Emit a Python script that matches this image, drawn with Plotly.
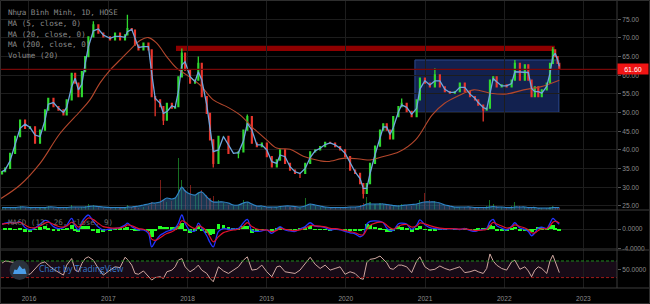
import plotly.graph_objects as go
import pandas as pd

# ---------------- data ----------------
dates = [
    "2015-08-30", "2015-09-13", "2015-10-06", "2015-10-29", "2015-11-21", "2015-12-14",
    "2016-01-06", "2016-01-29", "2016-02-21", "2016-03-15", "2016-03-30", "2016-04-23", "2016-05-16",
    "2016-06-08", "2016-06-23", "2016-07-16", "2016-08-01", "2016-08-16", "2016-09-01", "2016-09-16",
    "2016-10-01", "2016-10-24", "2016-11-16", "2016-12-09",
    "2017-01-09", "2017-02-01", "2017-02-24", "2017-03-19", "2017-03-30", "2017-04-19", "2017-05-04",
    "2017-05-20", "2017-06-12", "2017-07-05", "2017-07-20", "2017-08-05", "2017-08-28", "2017-09-12",
    "2017-09-28", "2017-10-21", "2017-11-05", "2017-11-20", "2017-12-06", "2017-12-21",
    "2018-01-13", "2018-02-05", "2018-02-20", "2018-03-08", "2018-03-31", "2018-04-15", "2018-04-30",
    "2018-05-24", "2018-06-16", "2018-07-09", "2018-08-01", "2018-08-24", "2018-09-16", "2018-10-04",
    "2018-10-25", "2018-11-17", "2018-12-10",
    "2019-01-02", "2019-01-25", "2019-02-17", "2019-03-04", "2019-03-27", "2019-04-19", "2019-05-12",
    "2019-06-04", "2019-06-28", "2019-07-21", "2019-08-13", "2019-09-05", "2019-09-28", "2019-10-21",
    "2019-11-13", "2019-12-06", "2019-12-29",
    "2020-01-21", "2020-02-13", "2020-03-07", "2020-03-22", "2020-04-07", "2020-04-22", "2020-05-15",
    "2020-06-07", "2020-06-22", "2020-07-08", "2020-07-23", "2020-08-07", "2020-08-31", "2020-09-15",
    "2020-10-08", "2020-10-31", "2020-11-23", "2020-12-08", "2020-12-31",
    "2021-01-23", "2021-02-15", "2021-03-10", "2021-04-02", "2021-04-25", "2021-05-18", "2021-06-10",
    "2021-07-03", "2021-07-27", "2021-08-19", "2021-09-03", "2021-09-26", "2021-10-12", "2021-10-27",
    "2021-11-11", "2021-11-27", "2021-12-20",
    "2022-01-12", "2022-02-04", "2022-02-19", "2022-03-14", "2022-04-06", "2022-04-22", "2022-05-07",
    "2022-05-22", "2022-06-07", "2022-06-23", "2022-07-16", "2022-07-31", "2022-08-13", "2022-08-24",
    "2022-09-04", "2022-09-12",
]

close = [
    34.2, 35.1, 39.1, 43.6, 48.0, 45.8,
    46.2, 41.8, 45.3, 50.7, 53.8, 51.6, 50.7, 49.4, 53.4, 60.5, 57.9, 54.3, 61.0, 65.0, 70.3, 73.5, 71.3, 70.3,
    69.5, 71.3, 69.5, 70.8, 72.5, 72.1, 68.1, 66.8, 68.6, 66.8, 54.3, 53.4, 51.6, 48.0, 52.5, 51.2, 51.6, 59.6, 65.9, 61.4,
    57.9, 58.7, 63.2, 54.3, 49.8, 42.7, 36.4, 43.6, 43.6, 39.1, 39.1, 39.5, 45.3, 48.9, 41.8, 40.9, 41.8,
    38.2, 35.5, 37.3, 40.0, 36.4, 34.6, 33.7, 33.7, 36.4, 39.5, 40.0, 40.9, 42.0, 41.8, 40.9, 40.0, 38.2,
    34.6, 33.7, 31.0, 28.4, 31.0, 36.4, 41.0, 45.3, 47.0, 45.3, 43.0, 48.9, 51.6, 52.5, 50.3, 48.9, 53.4, 59.2, 57.9,
    56.9, 60.1, 56.9, 55.6, 55.2, 55.6, 57.9, 55.6, 54.3, 53.4, 52.0, 50.7, 51.2, 58.7, 59.6, 56.9, 57.4,
    56.9, 58.7, 63.2, 58.7, 62.8, 58.7, 54.3, 56.9, 54.3, 56.1, 57.9, 63.2, 66.8, 65.0, 63.2, 61.6,
]
first_open = 33.6

wick_high = {"2016-10-24": 74.5, "2017-03-30": 76.2, "2017-12-06": 67.2, "2018-02-20": 65.0,
             "2018-10-04": 49.5, "2020-09-15": 53.8, "2021-02-15": 61.9, "2022-02-19": 64.1,
             "2022-08-13": 67.6}
wick_low = {"2017-08-05": 49.0, "2017-09-12": 46.7, "2018-04-30": 35.3, "2018-08-24": 37.8,
            "2019-06-04": 32.5, "2020-03-22": 27.0, "2021-09-26": 47.6}

macd = [
    1.0, 1.2, 1.4, 1.2, 1.5, 0.3,
    -0.2, 0.2, 1.0, 1.8, 1.6, 0.5, 0.1, 0.3, 0.8, 2.2, 0.6, -0.2, 1.5, 2.4, 2.9, 1.6, 0.4, -0.2,
    0.0, 0.1, 0.3, 0.8, 1.2, 0.5, 0.1, -0.2, -0.2, -0.9, -3.7, -2.6, -1.3, -0.9, -0.5, -0.2, 0.2, 1.2, 2.9, 1.2,
    -0.3, -0.4, 1.2, 0.2, -1.4, -2.8, -3.7, -0.5, 0.1, -0.1, 0.0, 0.1, 1.3, 2.0, -0.3, -0.5, -0.4,
    -0.2, -0.9, 0.0, 0.5, -0.2, -0.4, -0.5, 0.0, 0.5, 1.3, 0.6, 0.5, 0.3, -0.2, 0.0, -0.2, -0.5,
    -0.8, -1.0, -1.6, -1.2, 1.0, 1.6, 1.7, 1.6, 1.3, 0.2, -0.3, -0.3, 1.1, 1.2, 1.0, -0.1, 0.8, 1.9, 0.9,
    0.3, 0.1, 0.0, 0.0, 0.1, 0.0, -0.1, 0.1, -0.3, -0.5, -0.3, -0.1, 0.1, 1.5, 2.0, 0.7, 0.2,
    -0.2, 0.6, 1.3, 0.2, -0.1, -0.5, -1.4, -0.8, 0.2, 0.4, 0.1, 1.2, 2.2, 1.8, 1.3, 1.0,
]

rsi = [
    65, 70, 68, 66, 52, 40,
    38, 52, 64, 68, 60, 50, 44, 36, 60, 76, 48, 44, 64, 76, 80, 72, 52, 36,
    48, 56, 54, 79, 74, 60, 40, 38, 46, 34, 24, 30, 32, 28, 44, 48, 56, 72, 76, 56,
    44, 52, 60, 48, 40, 28, 20, 56, 46, 40, 48, 56, 72, 80, 48, 50, 60,
    44, 32, 56, 58, 44, 42, 40, 48, 64, 79, 62, 52, 60, 48, 52, 56, 38,
    44, 40, 28, 26, 66, 74, 76, 82, 74, 66, 52, 50, 60, 60, 56, 42, 70, 80, 56,
    48, 50, 58, 52, 48, 52, 56, 42, 44, 48, 44, 40, 52, 87, 70, 60, 52,
    48, 68, 72, 50, 56, 46, 32, 48, 56, 52, 40, 70, 84, 70, 56, 42,
]

volume_k = [
    80, 120, 80, 120, 160, 80,
    80, 120, 80, 120, 160, 80, 80, 80, 120, 200, 120, 80, 120, 160, 240, 200, 120, 80,
    80, 80, 80, 120, 200, 120, 120, 80, 120, 160, 320, 240, 1200, 400, 320, 360, 480, 2080, 1200, 800,
    1000, 600, 720, 800, 600, 480, 560, 400, 280, 200, 160, 200, 400, 320, 200, 160, 120,
    120, 120, 120, 160, 160, 120, 120, 80, 480, 240, 160, 120, 120, 80, 80, 120, 120,
    120, 120, 200, 280, 520, 320, 240, 280, 240, 200, 160, 160, 200, 240, 200, 160, 240, 400, 680,
    400, 360, 240, 160, 160, 120, 120, 120, 120, 120, 80, 120, 160, 400, 240, 160, 120,
    120, 160, 320, 160, 120, 120, 120, 120, 80, 80, 80, 120, 160, 120, 120, 80,
]

volume_ma_k = [
    100, 100, 100, 100, 120, 120,
    100, 100, 100, 100, 120, 120, 100, 100, 100, 120, 120, 120, 120, 120, 140, 160, 140, 120,
    100, 100, 100, 100, 120, 120, 140, 160, 200, 240, 280, 280, 320, 400, 480, 440, 480, 680, 920, 760,
    640, 600, 680, 720, 520, 400, 320, 320, 320, 280, 200, 200, 280, 320, 240, 160, 160,
    120, 120, 120, 140, 160, 160, 140, 120, 160, 240, 200, 160, 120, 100, 100, 100, 100,
    120, 120, 140, 180, 240, 240, 240, 240, 240, 220, 200, 180, 160, 180, 200, 220, 240, 280, 320,
    320, 320, 280, 200, 160, 120, 120, 120, 120, 100, 100, 100, 100, 120, 140, 120, 120,
    100, 100, 120, 120, 120, 100, 100, 100, 80, 80, 80, 80, 100, 100, 100, 100,
]

ma200_dates = [
    "2015-08-25", "2015-11-21", "2016-02-21", "2016-05-23", "2016-08-23", "2016-10-08", "2016-11-23",
    "2017-01-09", "2017-02-24", "2017-04-11", "2017-05-27", "2017-07-05", "2017-08-12", "2017-09-27",
    "2017-11-12", "2017-12-28", "2018-02-28", "2018-04-30", "2018-07-01", "2018-08-31", "2018-11-01",
    "2019-01-01", "2019-02-16", "2019-04-19", "2019-06-19", "2019-09-04", "2019-10-11", "2019-12-28",
    "2020-03-14", "2020-04-22", "2020-06-18", "2020-09-03", "2020-11-18", "2021-02-03", "2021-04-01",
    "2021-05-28", "2021-08-13", "2021-10-29", "2022-01-13", "2022-03-31", "2022-06-16", "2022-09-12",
]
ma200 = [
    27.0, 30.6, 36.4, 44.4, 50.3, 53.4, 57.9,
    61.4, 64.1, 66.8, 69.3, 70.1, 68.6, 65.0,
    61.9, 60.1, 57.4, 53.4, 51.6, 49.4, 45.8,
    42.7, 40.5, 40.2, 38.3, 37.1, 36.9, 37.8,
    37.5, 37.3, 38.2, 39.5, 42.7, 49.4, 52.5,
    54.3, 56.1, 55.2, 55.0, 56.1, 56.9, 58.7,
]

price_ticks = [25, 30, 35, 40, 45, 50, 55, 60, 65, 70, 75]
macd_ticks = [-4, 0]
macd_tick_text = ["-4.0000", "0.0000"]
rsi_ticks = [50]
rsi_tick_text = ["50.0000"]
rsi_upper, rsi_lower = 70, 30
last_price = 61.6
box_dates = ["2020-11-15", "2022-09-10"]
box_prices = [50.1, 64.1]
band_dates = ["2017-11-09", "2022-08-22"]
band_prices = [66.5, 67.9]
legend_lines = ["Nhựa Bình Minh, 1D, HOSE", "MA (5, close, 0)", "MA (20, close, 0)",
                "MA (200, close, 0)", "Volume (20)"]
macd_label = "MACD (12, 26, close, 9)"
watermark = "Chart by TradingView"

# ---------------- derived series ----------------
opens = [first_open] + close[:-1]
highs = [max(wick_high.get(d, 0), o, c) for d, o, c in zip(dates, opens, close)]
lows = [min(wick_low.get(d, 999), o, c) for d, o, c in zip(dates, opens, close)]
ma20 = pd.Series(close).rolling(2, min_periods=1).mean()
signal = pd.Series(macd).ewm(span=3, adjust=False).mean()
hist = pd.Series(macd) - signal
vol_colors = ["rgba(40,200,60,0.55)" if c >= o else "rgba(220,50,40,0.55)" for o, c in zip(opens, close)]

# ---------------- layout helpers (pixel -> paper) ----------------
W, H = 650, 304
ML, MR, MT, MB = 1, 33, 1, 16
PW, PH = W - ML - MR, H - MT - MB


def fx(px):
    return (px - ML) / PW


def fy(py):
    return (H - MB - py) / PH


GREEN = "#2fd82f"
RED = "#e8352c"
GRID = "#1d1d1d"
TXT = "#8c8c8c"
DAY = 86400000

fig = go.Figure()
fig.add_trace(go.Candlestick(
    x=dates, open=opens, high=highs, low=lows, close=close,
    increasing=dict(line=dict(color=GREEN, width=1.3), fillcolor=GREEN),
    decreasing=dict(line=dict(color=RED, width=1.3), fillcolor=RED),
    whiskerwidth=0, xaxis="x", yaxis="y", showlegend=False, hoverinfo="skip"))
fig.add_trace(go.Scatter(x=ma200_dates, y=ma200, mode="lines", line=dict(color="#b4472c", width=1.1, shape="spline"),
                         xaxis="x", yaxis="y"))
fig.add_trace(go.Scatter(x=dates, y=ma20, mode="lines", line=dict(color="#6fa6df", width=1.3),
                         xaxis="x", yaxis="y"))
fig.add_trace(go.Bar(x=dates, y=volume_k, marker=dict(color=vol_colors, line=dict(width=0)), width=5 * DAY,
                     xaxis="x", yaxis="y4"))
fig.add_trace(go.Scatter(x=dates, y=volume_ma_k, mode="lines", fill="tozeroy",
                         line=dict(color="#2f86c8", width=1.2, shape="spline"),
                         fillcolor="rgba(45,100,150,0.55)", xaxis="x", yaxis="y4"))
fig.add_trace(go.Bar(x=dates, y=hist, marker=dict(color="#22ff22", line=dict(width=0)), width=18 * DAY,
                     xaxis="x", yaxis="y2"))
fig.add_trace(go.Scatter(x=dates, y=macd, mode="lines", line=dict(color="#2233ff", width=1.3, shape="spline"),
                         xaxis="x", yaxis="y2"))
fig.add_trace(go.Scatter(x=dates, y=signal, mode="lines", line=dict(color="#e0102c", width=1.2, shape="spline"),
                         xaxis="x", yaxis="y2"))
fig.add_trace(go.Scatter(x=dates, y=rsi, mode="lines", line=dict(color="#cfa7a0", width=1),
                         xaxis="x", yaxis="y3"))

tickfont = dict(family="Liberation Sans", size=6.6, color=TXT)
common_y = dict(side="right", anchor="x", zeroline=False, showline=False, ticks="outside", ticklen=3,
                tickcolor="#555", tickfont=tickfont, gridcolor=GRID, gridwidth=1)

fig.update_layout(
    width=W, height=H, margin=dict(l=ML, r=MR, t=MT, b=MB),
    paper_bgcolor="#000000", plot_bgcolor="#000000", showlegend=False, bargap=0,
    xaxis=dict(type="date", range=["2015-08-25", "2023-06-05"], anchor="y3", tickformat="%Y",
               dtick="M12", tick0="2016-01-01", showgrid=True, gridcolor=GRID, ticks="outside",
               ticklen=4, tickcolor="#000000", tickfont=tickfont, rangeslider=dict(visible=False),
               zeroline=False, showline=False),
    yaxis=dict(domain=[fy(210), 1], range=[23.91, 79.9], tickvals=price_ticks, tickformat=".2f",
               showgrid=True, **common_y),
    yaxis2=dict(domain=[fy(250), fy(210)], range=[-4.35, 3.94], tickvals=macd_ticks,
                ticktext=macd_tick_text, showgrid=True, **common_y),
    yaxis3=dict(domain=[0, fy(250)], range=[4.9, 96.5], tickvals=rsi_ticks, ticktext=rsi_tick_text,
                showgrid=False, **common_y),
    yaxis4=dict(overlaying="y", range=[0, 8360], visible=False),
)

shapes = []
# RSI band and levels
shapes.append(dict(type="rect", xref="paper", yref="y3", x0=0, x1=1, y0=rsi_lower, y1=rsi_upper,
                   fillcolor="#170b17", line=dict(width=0), layer="below"))
shapes.append(dict(type="line", xref="paper", yref="y3", x0=0, x1=1, y0=rsi_upper, y1=rsi_upper,
                   line=dict(color="#1f8a1f", width=1, dash="3px,2px")))
shapes.append(dict(type="line", xref="paper", yref="y3", x0=0, x1=1, y0=rsi_lower, y1=rsi_lower,
                   line=dict(color="#a01a1a", width=1, dash="3px,2px")))
# drawings on price pane
shapes.append(dict(type="rect", xref="x", yref="y", x0=box_dates[0], x1=box_dates[1], y0=box_prices[0],
                   y1=box_prices[1], fillcolor="#12214f", line=dict(color="#2d4a90", width=1), layer="below"))
shapes.append(dict(type="rect", xref="x", yref="y", x0=band_dates[0], x1=band_dates[1], y0=band_prices[0],
                   y1=band_prices[1], fillcolor="#8e0000", line=dict(width=0), layer="below"))
shapes.append(dict(type="line", xref="paper", yref="y", x0=0, x1=1, y0=last_price, y1=last_price,
                   line=dict(color="#760808", width=1.3)))
# pane separators and frame
for py in (210, 250, 288):
    shapes.append(dict(type="line", xref="paper", yref="paper", x0=fx(0), x1=fx(650), y0=fy(py), y1=fy(py),
                       line=dict(color="#3c3c3c", width=1)))
shapes.append(dict(type="line", xref="paper", yref="paper", x0=1, x1=1, y0=fy(288), y1=fy(0),
                   line=dict(color="#3c3c3c", width=1)))
shapes.append(dict(type="rect", xref="paper", yref="paper", x0=fx(0.5), x1=fx(649.5), y0=fy(303.5),
                   y1=fy(0.5), line=dict(color="#2e2e2e", width=1)))
# watermark logo
shapes.append(dict(type="circle", xref="paper", yref="paper", x0=fx(9.5), x1=fx(29.5), y0=fy(280), y1=fy(260),
                   fillcolor="#2a323c", line=dict(width=0), layer="above"))
cloud = [(13, 274), (14.5, 269.5), (17, 270), (19.5, 265.5), (22.5, 269), (25, 268.5), (26.5, 274)]
path = "M " + " L ".join(f"{fx(a):.5f},{fy(b):.5f}" for a, b in cloud) + " Z"
shapes.append(dict(type="path", xref="paper", yref="paper", path=path, fillcolor="#4a9de8",
                   line=dict(width=0), layer="above"))
fig.update_layout(shapes=shapes)

ann = []
mono = dict(family="DejaVu Sans Mono", size=7.6, color="#8a8a8a")
for i, t in enumerate(legend_lines):
    ann.append(dict(text=t, xref="paper", yref="paper", x=fx(6), y=fy(13 + 10.5 * i), xanchor="left",
                    yanchor="middle", showarrow=False, font=mono))
ann.append(dict(text=macd_label, xref="paper", yref="paper", x=fx(6), y=fy(222.5), xanchor="left",
                yanchor="middle", showarrow=False, font=dict(family="DejaVu Sans Mono", size=7.6, color="#6a6a6a")))
ann.append(dict(text=watermark, xref="paper", yref="paper", x=fx(36.5), y=fy(268), xanchor="left",
                yanchor="middle", showarrow=False,
                font=dict(family="Open Sans", size=8.5, color="rgba(60,140,225,0.9)")))
ann.append(dict(text=f"{last_price:.2f}", xref="paper", yref="y", x=1, y=last_price, xanchor="left",
                yanchor="middle", showarrow=False, bgcolor="#f01414", borderpad=1, width=28, height=8,
                font=dict(family="Liberation Sans", size=7, color="#ffffff")))
fig.update_layout(annotations=ann)

fig.write_html("out.html")
